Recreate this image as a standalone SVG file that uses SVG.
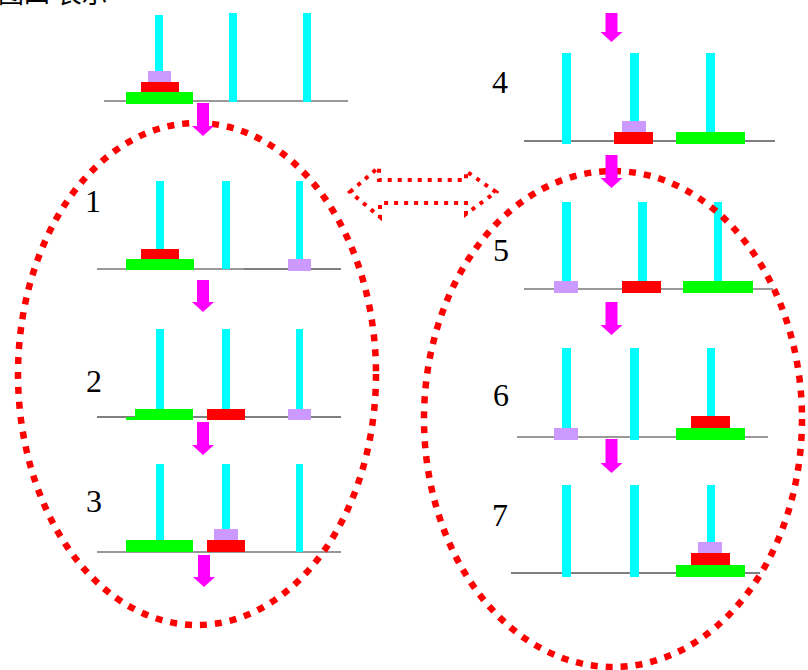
<svg xmlns="http://www.w3.org/2000/svg" width="808" height="670" viewBox="0 0 808 670">
<style>
.peg{fill:#00FFFF}
.g{fill:#00FF00}
.r{fill:#FF0000}
.p{fill:#CC99FF}
.base{stroke:#777;stroke-width:1.6}
.baseb{stroke:#000;stroke-width:1.2}
.lbl{font-family:"Liberation Serif",serif;font-size:32px;fill:#000}
.arr{fill:#FF00FF}
.oval{fill:none;stroke:#FF0000;stroke-width:6.5;stroke-dasharray:7 8}
.dbl{fill:none;stroke:#FF0000;stroke-width:4;stroke-dasharray:4 6}
</style>
<rect width="808" height="670" fill="#fff"/>
<text x="-2" y="3" font-family="'Noto Sans CJK SC',sans-serif" font-size="26" fill="#000">图四 表示</text>

<g id="state0">
<line class="base" x1="104" y1="101" x2="348" y2="101"/>
<rect class="peg" x="155" y="15" width="8" height="87"/>
<rect class="peg" x="229" y="13" width="8" height="89"/>
<rect class="peg" x="303" y="13" width="8" height="89"/>
<rect class="p" x="148" y="71" width="23" height="11"/>
<rect class="r" x="141" y="82" width="38" height="11"/>
<rect class="g" x="126" y="92" width="67" height="12"/>
</g>

<g id="state1">
<text class="lbl" x="85" y="212">1</text>
<line class="base" x1="97" y1="269" x2="244" y2="269"/>
<line class="baseb" x1="244" y1="269" x2="341" y2="269"/>
<rect class="peg" x="156" y="181" width="8" height="88"/>
<rect class="peg" x="222" y="181" width="8" height="88"/>
<rect class="peg" x="296" y="181" width="7" height="88"/>
<rect class="r" x="141" y="249" width="38" height="11"/>
<rect class="g" x="126" y="259" width="68" height="11"/>
<rect class="p" x="288" y="259" width="23" height="12"/>
</g>

<g id="state2">
<text class="lbl" x="86" y="392">2</text>
<line class="baseb" x1="97" y1="417" x2="341" y2="417"/>
<rect class="peg" x="156" y="329" width="8" height="88"/>
<rect class="peg" x="222" y="329" width="8" height="88"/>
<rect class="peg" x="296" y="329" width="7" height="88"/>
<rect class="g" x="135" y="409" width="58" height="11"/>
<rect class="g" x="126" y="417" width="10" height="3"/>
<rect class="r" x="207" y="409" width="38" height="11"/>
<rect class="p" x="288" y="409" width="23" height="11"/>
</g>

<g id="state3">
<text class="lbl" x="86" y="512">3</text>
<line class="base" x1="97" y1="552" x2="341" y2="552"/>
<rect class="peg" x="156" y="464" width="8" height="88"/>
<rect class="peg" x="222" y="464" width="8" height="88"/>
<rect class="peg" x="296" y="464" width="7" height="88"/>
<rect class="g" x="126" y="540" width="67" height="12"/>
<rect class="r" x="207" y="540" width="38" height="12"/>
<rect class="p" x="214" y="529" width="24" height="11"/>
</g>

<g id="state4">
<text class="lbl" x="492" y="93">4</text>
<line class="baseb" x1="524" y1="141" x2="775" y2="141"/>
<rect class="peg" x="562" y="53" width="9" height="91"/>
<rect class="peg" x="630" y="53" width="9" height="91"/>
<rect class="peg" x="706" y="53" width="9" height="91"/>
<rect class="p" x="622" y="121" width="24" height="11"/>
<rect class="r" x="614" y="132" width="39" height="12"/>
<rect class="g" x="676" y="132" width="69" height="12"/>
</g>

<g id="state5">
<text class="lbl" x="493" y="261">5</text>
<line class="base" x1="524" y1="289" x2="773" y2="289"/>
<rect class="peg" x="562" y="202" width="9" height="89"/>
<rect class="peg" x="638" y="202" width="9" height="89"/>
<rect class="peg" x="714" y="202" width="8" height="89"/>
<rect class="p" x="554" y="281" width="24" height="12"/>
<rect class="r" x="622" y="281" width="39" height="12"/>
<rect class="g" x="683" y="281" width="70" height="12"/>
</g>

<g id="state6">
<text class="lbl" x="493" y="406">6</text>
<line class="base" x1="517" y1="437" x2="768" y2="437"/>
<rect class="peg" x="562" y="348" width="9" height="92"/>
<rect class="peg" x="630" y="348" width="9" height="92"/>
<rect class="peg" x="707" y="348" width="8" height="92"/>
<rect class="p" x="554" y="428" width="24" height="12"/>
<rect class="r" x="691" y="416" width="39" height="12"/>
<rect class="g" x="676" y="428" width="69" height="12"/>
</g>

<g id="state7">
<text class="lbl" x="492" y="526">7</text>
<line class="baseb" x1="511" y1="573" x2="760" y2="573"/>
<rect class="peg" x="562" y="485" width="9" height="92"/>
<rect class="peg" x="630" y="485" width="9" height="92"/>
<rect class="peg" x="707" y="485" width="8" height="92"/>
<rect class="p" x="698" y="542" width="24" height="11"/>
<rect class="r" x="691" y="553" width="39" height="12"/>
<rect class="g" x="676" y="565" width="69" height="12"/>
</g>

<g id="group-left">
<ellipse class="oval" cx="197" cy="374" rx="179" ry="251"/>
</g>
<g id="group-right">
<ellipse class="oval" cx="613" cy="419" rx="189" ry="248"/>
</g>

<g id="connectors">
<path class="dbl" d="M350,192 L379,167 L379,180 L466,180 L466,171 L496,192 L466,214 L466,203 L380,203 L380,217 Z"/>
<path class="arr" d="M197,103 H209 V126 H214 L203,136 L192,126 H197 Z"/>
<path class="arr" d="M197,280 H209 V302 H214 L203,312 L192,302 H197 Z"/>
<path class="arr" d="M197,422 H209 V445 H214 L203,455 L192,445 H197 Z"/>
<path class="arr" d="M198,555 H210 V577 H215 L204,587 L193,577 H198 Z"/>
<path class="arr" d="M605.5,13 H617.5 V32 H622.5 L611.5,42 L600.5,32 H605.5 Z"/>
<path class="arr" d="M605.5,155 H617.5 V178 H622.5 L611.5,188 L600.5,178 H605.5 Z"/>
<path class="arr" d="M605.5,302 H617.5 V325 H622.5 L611.5,335 L600.5,325 H605.5 Z"/>
<path class="arr" d="M605.5,439 H617.5 V463 H622.5 L611.5,473 L600.5,463 H605.5 Z"/>
</g>
</svg>
